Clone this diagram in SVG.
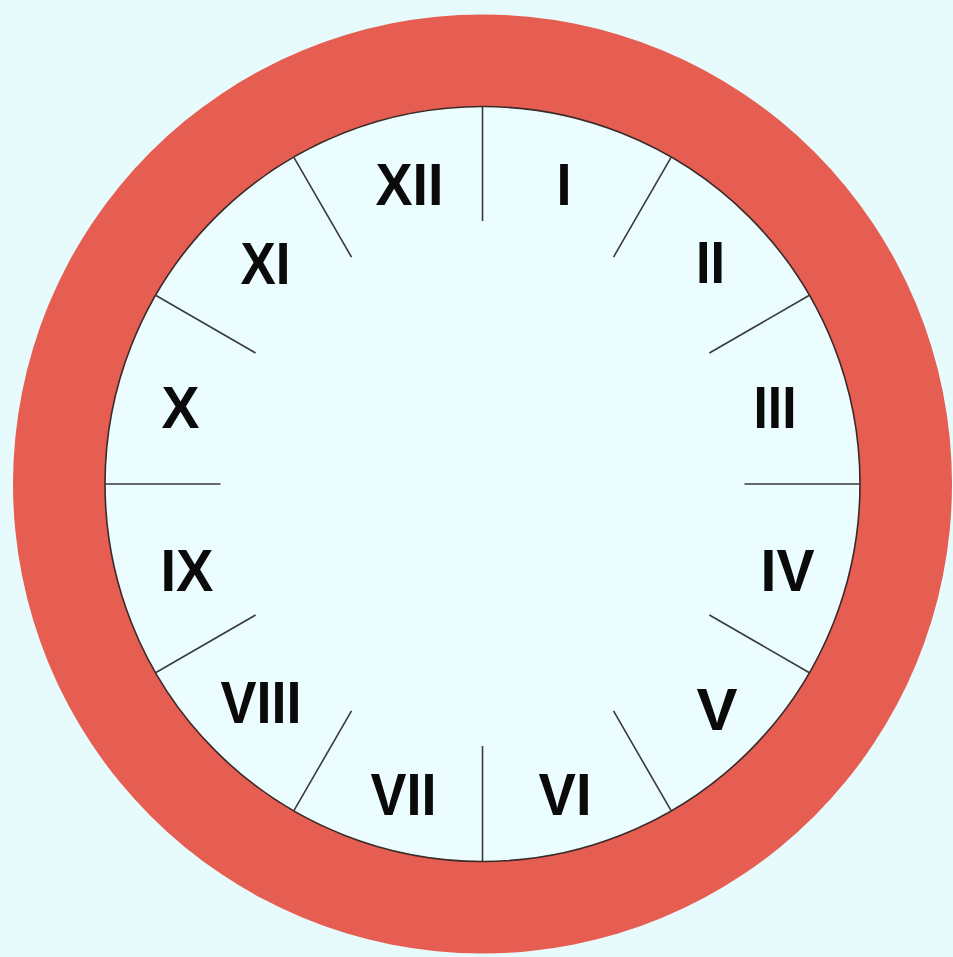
<svg xmlns="http://www.w3.org/2000/svg" width="953" height="957" viewBox="0 0 953 957">
<style>
.num{font-family:"Liberation Sans",Arial,sans-serif;font-weight:bold;font-size:60px;fill:#0a0a0a;text-anchor:middle}
.tick{stroke:#3a3a3a;stroke-width:1.6}
</style>
<rect width="953" height="957" fill="#e8fbfc"/>
<g id="ring">
<circle cx="482.5" cy="484" r="469.5" fill="#e65d52"/>
<circle cx="482.5" cy="484" r="377.5" fill="#ebfdfe" stroke="#3a2a28" stroke-width="1.6"/>
</g>
<g id="ticks">
<line class="tick" x1="482.5" y1="106.5" x2="482.5" y2="221"/>
<line class="tick" transform="rotate(30 482.5 484)" x1="482.5" y1="106.5" x2="482.5" y2="222"/>
<line class="tick" transform="rotate(60 482.5 484)" x1="482.5" y1="106.5" x2="482.5" y2="222"/>
<line class="tick" transform="rotate(90 482.5 484)" x1="482.5" y1="106.5" x2="482.5" y2="222"/>
<line class="tick" transform="rotate(120 482.5 484)" x1="482.5" y1="106.5" x2="482.5" y2="222"/>
<line class="tick" transform="rotate(150 482.5 484)" x1="482.5" y1="106.5" x2="482.5" y2="222"/>
<line class="tick" transform="rotate(180 482.5 484)" x1="482.5" y1="106.5" x2="482.5" y2="222"/>
<line class="tick" transform="rotate(210 482.5 484)" x1="482.5" y1="106.5" x2="482.5" y2="222"/>
<line class="tick" transform="rotate(240 482.5 484)" x1="482.5" y1="106.5" x2="482.5" y2="222"/>
<line class="tick" transform="rotate(270 482.5 484)" x1="482.5" y1="106.5" x2="482.5" y2="222"/>
<line class="tick" transform="rotate(300 482.5 484)" x1="482.5" y1="106.5" x2="482.5" y2="222"/>
<line class="tick" transform="rotate(330 482.5 484)" x1="482.5" y1="106.5" x2="482.5" y2="222"/>
</g>
<g id="n12"><text class="num" x="409.5" y="205" textLength="68" lengthAdjust="spacingAndGlyphs">XII</text></g>
<g id="n1"><text class="num" x="564" y="205" textLength="15" lengthAdjust="spacingAndGlyphs">I</text></g>
<g id="n2"><text class="num" x="710.5" y="283" textLength="29" lengthAdjust="spacingAndGlyphs">II</text></g>
<g id="n3"><text class="num" x="775" y="428" textLength="43" lengthAdjust="spacingAndGlyphs">III</text></g>
<g id="n4"><text class="num" x="787.5" y="591" textLength="54" lengthAdjust="spacingAndGlyphs">IV</text></g>
<g id="n5"><text class="num" x="717" y="730" textLength="41" lengthAdjust="spacingAndGlyphs">V</text></g>
<g id="n6"><text class="num" x="565" y="815" textLength="53" lengthAdjust="spacingAndGlyphs">VI</text></g>
<g id="n7"><text class="num" x="403.5" y="815" textLength="66" lengthAdjust="spacingAndGlyphs">VII</text></g>
<g id="n8"><text class="num" x="261" y="723" textLength="81" lengthAdjust="spacingAndGlyphs">VIII</text></g>
<g id="n9"><text class="num" x="187" y="591" textLength="53" lengthAdjust="spacingAndGlyphs">IX</text></g>
<g id="n10"><text class="num" x="180.5" y="428" textLength="38" lengthAdjust="spacingAndGlyphs">X</text></g>
<g id="n11"><text class="num" x="265.5" y="284" textLength="50" lengthAdjust="spacingAndGlyphs">XI</text></g>
</svg>
